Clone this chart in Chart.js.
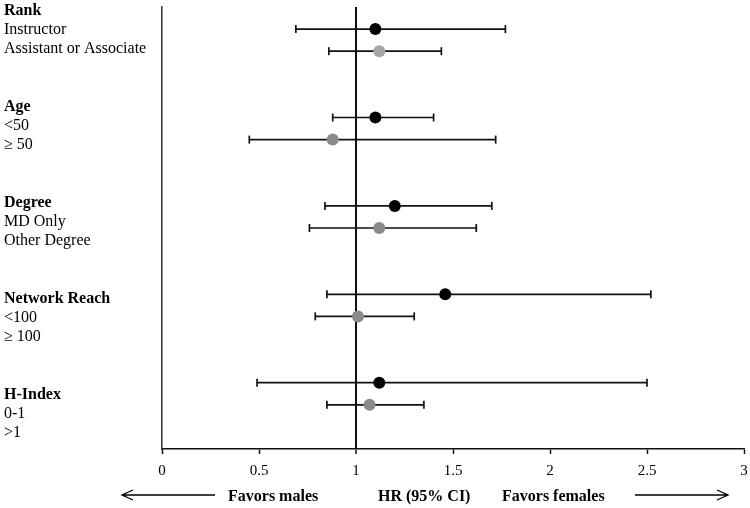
<!DOCTYPE html>
<html>
<head>
<meta charset="utf-8">
<script src="https://cdn.jsdelivr.net/npm/chart.js@4.4.0/dist/chart.umd.min.js"></script>
<style>
  html, body { margin: 0; padding: 0; background: #fff; }
</style>
</head>
<body>
<canvas id="forest" width="750" height="508"></canvas>
<script>
// Forest plot: HR (95% CI) by subgroup

const groups = ['Rank', 'Age', 'Degree', 'Network Reach', 'H-Index'];
const subgroups = [
    ['Instructor', 'Assistant or Associate'],
    ['<50', '≥ 50'],
    ['MD Only', 'Other Degree'],
    ['<100', '≥ 100'],
    ['0-1', '>1']
];
const hr    = [1.10, 1.12, 1.10, 0.88, 1.20, 1.12, 1.46, 1.01, 1.12, 1.07];
const lower = [0.69, 0.86, 0.88, 0.45, 0.84, 0.76, 0.85, 0.79, 0.49, 0.85];
const upper = [1.77, 1.44, 1.40, 1.72, 1.70, 1.62, 2.52, 1.30, 2.50, 1.35];
const xTicks = [0, 0.5, 1, 1.5, 2, 2.5, 3];
const bottomNotes = ['Favors males', 'HR (95% CI)', 'Favors females'];

const SERIF = "'Liberation Serif', 'Times New Roman', serif";
const LINE = '#111111';
const dotColors = ['#000000', '#a6a6a6', '#000000', '#8a8a8a', '#000000',
                   '#8a8a8a', '#000000', '#8a8a8a', '#000000', '#8a8a8a'];

// строки для точек: 4 строки на группу
const rows = [];
groups.forEach((g, gi) => {
    subgroups[gi].forEach((s, si) => rows.push(gi * 4 + si + 1));
});

// подписи слева: заголовок, две подгруппы, два пустых ряда
const labelRows = [];
groups.forEach((g, gi) => {
    labelRows.push(g, subgroups[gi][0], subgroups[gi][1], '', '');
});
labelRows.length = 24;
const headerSet = new Set(groups);

const ciDatasets = hr.map((v, i) => ({
    type: 'line',
    data: [{ x: lower[i], y: rows[i] }, { x: upper[i], y: rows[i] }],
    borderColor: LINE,
    borderWidth: 1.7,
    pointStyle: 'line',
    pointRotation: 90,
    pointRadius: 4,
    pointHoverRadius: 4,
    pointBorderColor: LINE,
    pointBorderWidth: 1.7,
    fill: false,
    tension: 0,
    xAxisID: 'x',
    yAxisID: 'y',
    order: 1
}));

const hrDataset = {
    type: 'scatter',
    data: hr.map((v, i) => ({ x: v, y: rows[i] })),
    backgroundColor: dotColors,
    borderWidth: 0,
    pointRadius: 6,
    pointHoverRadius: 6,
    xAxisID: 'x',
    yAxisID: 'y',
    order: 0
};

const bottomNotesPlugin = {
    id: 'bottomNotes',
    afterDraw(chart) {
        const ctx = chart.ctx;
        const y = 495;
        ctx.save();
        ctx.fillStyle = '#000';
        ctx.font = 'bold 16px ' + SERIF;
        ctx.textBaseline = 'alphabetic';
        ctx.textAlign = 'left';
        ctx.fillText(bottomNotes[0], 228, 501);
        ctx.fillText(bottomNotes[1], 378, 501);
        ctx.fillText(bottomNotes[2], 502, 501);

        ctx.strokeStyle = '#000';
        ctx.lineWidth = 1.3;
        ctx.beginPath();
        // стрелка влево
        ctx.moveTo(215, y); ctx.lineTo(122, y);
        ctx.moveTo(133, y - 5); ctx.lineTo(122, y); ctx.lineTo(133, y + 5);
        // стрелка вправо
        ctx.moveTo(635, y); ctx.lineTo(728, y);
        ctx.moveTo(717, y - 5); ctx.lineTo(728, y); ctx.lineTo(717, y + 5);
        ctx.stroke();
        ctx.restore();
    }
};

new Chart(document.getElementById('forest'), {
    data: { datasets: [hrDataset, ...ciDatasets] },
    options: {
        responsive: false,
        animation: false,
        events: [],
        layout: { padding: { left: 4, right: 5, top: 7, bottom: 0 } },
        plugins: {
            legend: { display: false },
            tooltip: { enabled: false }
        },
        scales: {
            x: {
                type: 'linear',
                position: 'bottom',
                min: 0,
                max: 3,
                afterBuildTicks: scale => {
                    scale.ticks = xTicks.map(v => ({ value: v }));
                },
                afterFit: scale => {
                    scale.height = 59;
                    scale.paddingLeft = 0;
                    scale.paddingRight = 0;
                },
                border: { display: true, color: LINE, width: 1.5 },
                grid: {
                    drawOnChartArea: true,
                    drawTicks: true,
                    tickLength: 5,
                    tickColor: LINE,
                    tickWidth: 1.5,
                    color: ctx => (ctx.tick && ctx.tick.value === 1) ? '#111' : 'rgba(0,0,0,0)',
                    lineWidth: ctx => (ctx.tick && ctx.tick.value === 1) ? 2 : 1
                },
                ticks: {
                    color: '#000',
                    padding: 8,
                    maxRotation: 0,
                    font: { family: SERIF, size: 15 },
                    callback: v => String(v)
                }
            },
            y: {
                type: 'linear',
                display: false,
                min: 0,
                max: 20,
                reverse: true
            },
            yLabels: {
                type: 'category',
                position: 'left',
                labels: labelRows,
                offset: false,
                afterFit: scale => {
                    scale.width = 158;
                    scale.paddingTop = 0;
                    scale.paddingBottom = 0;
                },
                border: { display: true, color: '#333', width: 1.5 },
                grid: { display: false },
                ticks: {
                    autoSkip: false,
                    crossAlign: 'far',
                    labelOffset: 3.5,
                    color: '#000',
                    font: ctx => ({
                        family: SERIF,
                        size: 16,
                        weight: headerSet.has(ctx.tick && ctx.tick.label) ? 'bold' : 'normal'
                    })
                }
            }
        }
    },
    plugins: [bottomNotesPlugin]
});
</script>
</body>
</html>
